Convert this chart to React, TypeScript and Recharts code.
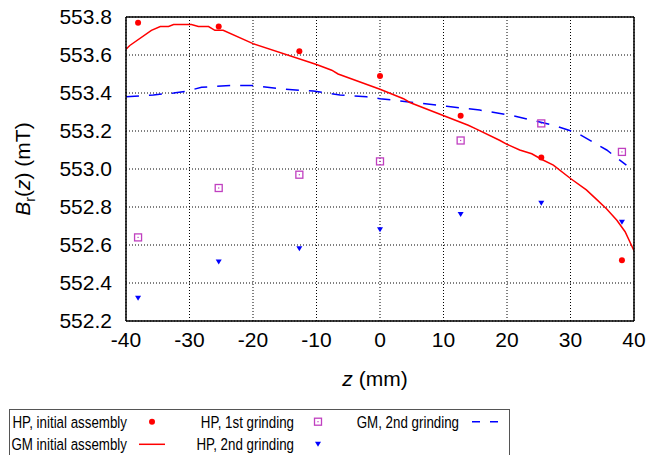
import React from "react";
import {
  ComposedChart,
  Line,
  Scatter,
  XAxis,
  YAxis,
  CartesianGrid,
  Legend,
} from "recharts";

// ---- data ----
const zPoints = [-38.1, -25.4, -12.7, 0, 12.7, 25.4, 38.1];
const hpInitial = [553.77, 553.75, 553.62, 553.49, 553.28, 553.06, 552.52];
const hp1st = [552.64, 552.9, 552.97, 553.04, 553.15, 553.24, 553.09];
const hp2nd = [552.32, 552.51, 552.58, 552.68, 552.76, 552.82, 552.72];

const zGmInit = [
  -40, -39.4, -36, -34.6, -33.3, -32.5, -29.7, -28.6, -27, -26, -24.7, -20, -10,
  -7.6, -6.6, 0, 3.7, 4.7, 13.9, 15.2, 18.9, 20, 22, 23.9, 25.5, 27.3, 30, 32.5,
  34.1, 35.7, 37.3, 38.6, 40,
];
const gmInit = [
  553.63, 553.65, 553.73, 553.75, 553.75, 553.76, 553.76, 553.75, 553.75,
  553.73, 553.73, 553.66, 553.55, 553.52, 553.5, 553.42, 553.37, 553.35, 553.23,
  553.21, 553.15, 553.13, 553.1, 553.08, 553.05, 553.02, 552.95, 552.89, 552.84,
  552.79, 552.73, 552.67, 552.57,
];

const zGm2 = [
  -40, -35.7, -32.5, -30.4, -28.1, -23.6, -20, -15.2, -10.5, -6.3, -2.1, 0, 5.3,
  10.5, 15.7, 21, 27.3, 31, 35.7, 38.8,
];
const gm2 = [
  553.38, 553.39, 553.4, 553.41, 553.43, 553.44, 553.44, 553.42, 553.41, 553.39,
  553.38, 553.37, 553.35, 553.33, 553.31, 553.28, 553.23, 553.19, 553.1, 553.02,
];

const xTicks = [-40, -30, -20, -10, 0, 10, 20, 30, 40];
const yTicks = [552.2, 552.4, 552.6, 552.8, 553.0, 553.2, 553.4, 553.6, 553.8];

const seriesNames = {
  hpInit: "HP, initial assembly",
  hp1: "HP, 1st grinding",
  gm2: "GM, 2nd grinding",
  gmInit: "GM initial assembly",
  hp2: "HP, 2nd grinding",
};
const legendOrder = [
  seriesNames.hpInit,
  seriesNames.hp1,
  seriesNames.gm2,
  seriesNames.gmInit,
  seriesNames.hp2,
];

// ---- built tables ----
const zip = (xs: number[], ys: number[]) => xs.map((z, i) => ({ z, v: ys[i] }));
const hpInitData = zip(zPoints, hpInitial);
const hp1Data = zip(zPoints, hp1st);
const hp2Data = zip(zPoints, hp2nd);
const gmInitData = zip(zGmInit, gmInit);
const gm2Data = zip(zGm2, gm2);

const RED = "#ff0000";
const BLUE = "#0000ff";
const MAGENTA = "#c040c0";
const FONT = "'Liberation Sans', Arial, sans-serif";

const Dot = (p: any) => <circle cx={p.cx} cy={p.cy} r={3} fill={RED} />;
const Square = (p: any) => (
  <g>
    <rect x={p.cx - 3.5} y={p.cy - 3.5} width={7} height={7} fill="none" stroke={MAGENTA} strokeWidth={1.3} />
    <rect x={p.cx - 0.6} y={p.cy - 0.6} width={1.2} height={1.2} fill={MAGENTA} />
  </g>
);
const Tri = (p: any) => (
  <path d={`M${p.cx - 3},${p.cy - 2.5}L${p.cx + 3},${p.cy - 2.5}L${p.cx},${p.cy + 2.5}Z`} fill={BLUE} />
);

const legendSymbol = (name: string, cx: number, cy: number) => {
  if (name === seriesNames.hpInit) return <circle cx={cx} cy={cy} r={3} fill={RED} />;
  if (name === seriesNames.hp1) return Square({ cx, cy });
  if (name === seriesNames.hp2) return Tri({ cx, cy });
  if (name === seriesNames.gmInit)
    return <line x1={cx - 13} x2={cx + 13} y1={cy} y2={cy} stroke={RED} strokeWidth={1.5} />;
  return (
    <line x1={cx - 13} x2={cx + 13} y1={cy} y2={cy} stroke={BLUE} strokeWidth={1.5} strokeDasharray="8 10" />
  );
};

const colTextRight = [118, 285, 450];
const colSymbol = [143, 309, 476];
const rowY = [12.7, 35.3];

const renderLegend = (props: any) => {
  const payload: any[] = props.payload || [];
  const names = legendOrder.filter((n) => payload.some((p) => p.value === n));
  return (
    <svg width={501} height={47} style={{ display: "block" }}>
      <rect x={0.5} y={0.5} width={500} height={46} fill="#fff" stroke="#555" strokeWidth={1} />
      {names.map((n, i) => {
        const col = i % 3;
        const row = Math.floor(i / 3);
        return (
          <g key={n}>
            <text
              transform={`translate(${colTextRight[col]}, ${rowY[row]}) scale(0.785, 1)`}
              x={0}
              y={0}
              textAnchor="end"
              dominantBaseline="central"
              fontFamily={FONT}
              fontSize={17}
              fill="#000"
            >
              {n}
            </text>
            {legendSymbol(n, colSymbol[col], rowY[row])}
          </g>
        );
      })}
    </svg>
  );
};

const YLabel = (props: any) => {
  const vb = props.viewBox || { y: 17, height: 305 };
  const cy = vb.y + vb.height / 2;
  return (
    <text
      transform={`translate(30, ${cy}) rotate(-90)`}
      textAnchor="middle"
      fontFamily={FONT}
      fontSize={21}
      fill="#000"
    >
      <tspan fontStyle="italic">B</tspan>
      <tspan fontSize={14} dy={5}>r</tspan>
      <tspan dy={-5}>(</tspan>
      <tspan fontStyle="italic">z</tspan>
      <tspan>) (mT)</tspan>
    </text>
  );
};

const XLabel = (props: any) => {
  const vb = props.viewBox || { x: 126, width: 508 };
  const cx = vb.x + vb.width / 2 - 5;
  return (
    <text x={cx} y={386} textAnchor="middle" fontFamily={FONT} fontSize={21} fill="#000">
      <tspan fontStyle="italic">z</tspan>
      <tspan> (mm)</tspan>
    </text>
  );
};

const tickStyle = { fontFamily: FONT, fontSize: 21, fill: "#000" };

export default function App() {
  return (
    <div style={{ position: "absolute", left: 0, top: 0, width: 652, height: 455, background: "#fff" }}>
      <ComposedChart
        width={652}
        height={455}
        margin={{ top: 17, right: 18, bottom: 133, left: 66 }}
      >
        <CartesianGrid
          stroke="#000"
          strokeDasharray="1 2"
          strokeWidth={1}
          horizontalValues={yTicks}
          verticalValues={xTicks}
        />
        <XAxis
          type="number"
          dataKey="z"
          domain={[-40, 40]}
          ticks={xTicks}
          allowDataOverflow
          tickLine={false}
          tickSize={0}
          tickMargin={11}
          axisLine={{ stroke: "#000", strokeWidth: 1.5 }}
          tick={tickStyle}
          height={1}
          label={<XLabel />}
        />
        <XAxis
          xAxisId="bottomTicks"
          type="number"
          dataKey="z"
          domain={[-40, 40]}
          ticks={xTicks}
          allowDataOverflow
          mirror
          tick={false}
          tickSize={6}
          tickLine={{ stroke: "#000", strokeWidth: 1 }}
          axisLine={false}
        />
        <XAxis
          xAxisId="top"
          orientation="top"
          type="number"
          dataKey="z"
          domain={[-40, 40]}
          ticks={xTicks}
          allowDataOverflow
          mirror
          tick={false}
          tickSize={6}
          tickLine={{ stroke: "#000", strokeWidth: 1 }}
          axisLine={{ stroke: "#000", strokeWidth: 1.5 }}
        />
        <YAxis
          type="number"
          domain={[552.2, 553.8]}
          ticks={yTicks}
          allowDataOverflow
          width={60}
          tickLine={false}
          tickSize={0}
          tickMargin={14}
          axisLine={{ stroke: "#000", strokeWidth: 1.5 }}
          tick={tickStyle}
          tickFormatter={(v: number) => v.toFixed(1)}
          label={<YLabel />}
        />
        <YAxis
          yAxisId="leftTicks"
          type="number"
          domain={[552.2, 553.8]}
          ticks={yTicks}
          allowDataOverflow
          mirror
          tick={false}
          tickSize={6}
          tickLine={{ stroke: "#000", strokeWidth: 1 }}
          axisLine={false}
        />
        <YAxis
          yAxisId="right"
          orientation="right"
          type="number"
          domain={[552.2, 553.8]}
          ticks={yTicks}
          allowDataOverflow
          mirror
          tick={false}
          tickSize={6}
          tickLine={{ stroke: "#000", strokeWidth: 1 }}
          axisLine={{ stroke: "#000", strokeWidth: 1.5 }}
        />
        <Line
          data={gm2Data}
          dataKey="v"
          name={seriesNames.gm2}
          stroke={BLUE}
          strokeWidth={1.5}
          strokeDasharray="13 10"
          dot={false}
          activeDot={false}
          type="linear"
          isAnimationActive={false}
        />
        <Line
          data={gmInitData}
          dataKey="v"
          name={seriesNames.gmInit}
          stroke={RED}
          strokeWidth={1.5}
          dot={false}
          activeDot={false}
          type="linear"
          isAnimationActive={false}
        />
        <Scatter data={hpInitData} dataKey="v" name={seriesNames.hpInit} fill={RED} shape={Dot} isAnimationActive={false} />
        <Scatter data={hp1Data} dataKey="v" name={seriesNames.hp1} fill={MAGENTA} shape={Square} isAnimationActive={false} />
        <Scatter data={hp2Data} dataKey="v" name={seriesNames.hp2} fill={BLUE} shape={Tri} isAnimationActive={false} />
        <Legend
          layout="horizontal"
          verticalAlign="middle"
          align="center"
          content={renderLegend}
          wrapperStyle={{ position: "absolute", left: 9, top: 409, width: 501, height: 47 }}
        />
      </ComposedChart>
    </div>
  );
}
